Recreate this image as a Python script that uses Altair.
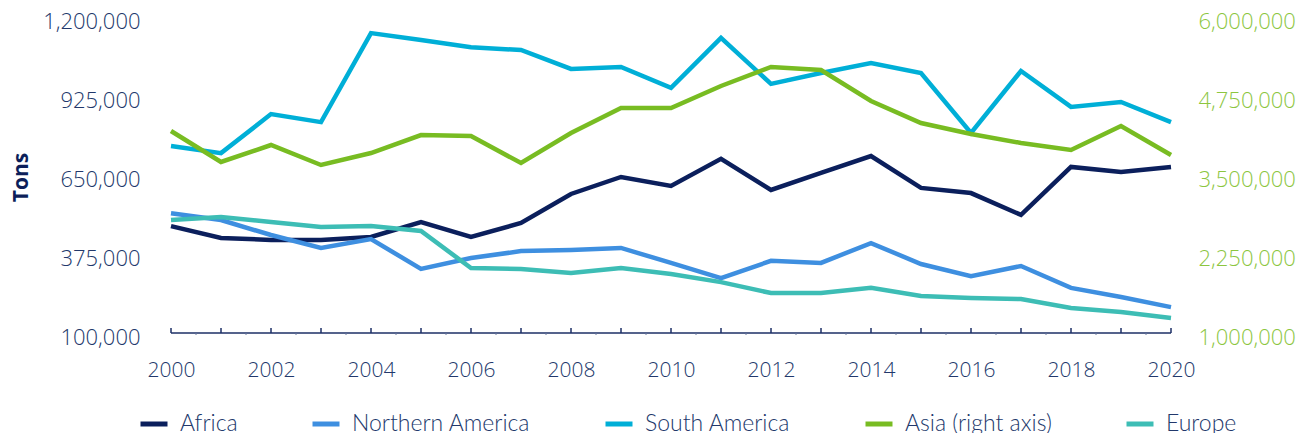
import altair as alt
import pandas as pd

years = list(range(2000, 2021))

africa = [486000, 445000, 438000, 438000, 448000, 500000, 448000, 497000, 598000, 657000, 626000,
          720000, 612000, 671000, 730000, 619000, 601000, 525000, 692000, 674000, 692000]
northern_america = [531000, 507000, 455000, 410000, 441000, 337000, 375000, 399000, 403000, 410000, 358000,
                    305000, 365000, 358000, 427000, 354000, 312000, 347000, 271000, 239000, 204000]
south_america = [765000, 740000, 876000, 848000, 1158000, 1134000, 1109000, 1099000, 1033000, 1040000, 967000,
                 1141000, 981000, 1019000, 1054000, 1019000, 810000, 1026000, 901000, 918000, 848000]
europe = [507000, 518000, 500000, 483000, 486000, 469000, 340000, 337000, 323000, 340000, 319000,
          291000, 253000, 253000, 271000, 243000, 236000, 232000, 201000, 187000, 166000]
asia = [4260000, 3769000, 4038000, 3722000, 3911000, 4196000, 4180000, 3753000, 4228000, 4623000, 4623000,
        4972000, 5272000, 5225000, 4734000, 4386000, 4212000, 4070000, 3959000, 4339000, 3880000]

series_names = ["Africa", "Northern America", "South America", "Asia (right axis)", "Europe"]
series_colors = ["#0b1f5c", "#3e8fe0", "#00afd7", "#78bc22", "#3dbdb5"]

left_ticks = [100000, 375000, 650000, 925000, 1200000]
right_ticks = [1000000, 2250000, 3500000, 4750000, 6000000]
x_label_years = list(range(2000, 2021, 2))

NAVY = "#22386b"
GREEN = "#8cc63f"
FONT = "Open Sans"
LFONT = "Lato"
W, H = 1000, 316

rows = []
for name, vals in [("Africa", africa), ("Northern America", northern_america),
                   ("South America", south_america), ("Europe", europe)]:
    for y, v in zip(years, vals):
        rows.append({"year": y, "value": v, "series": name})
left_df = pd.DataFrame(rows)
asia_df = pd.DataFrame({"year": years, "value": asia, "series": "Asia (right axis)"})

x_scale = alt.Scale(domain=[2000, 2020], nice=False, zero=False)
color = alt.Color(
    "series:N",
    scale=alt.Scale(domain=series_names, range=series_colors),
    legend=alt.Legend(
        title=None, orient="none", legendX=-33, legendY=387, direction="horizontal",
        columns=5, columnPadding=64, padding=0, symbolType="stroke", symbolStrokeWidth=5,
        symbolSize=729, labelFont=LFONT, labelFontSize=23, labelFontWeight=300,
        labelColor=NAVY, labelOffset=10, labelLimit=400,
    ),
)

x_enc = alt.X(
    "year:Q", scale=x_scale,
    axis=alt.Axis(values=x_label_years, format="d", domain=False, ticks=False, grid=False,
                  title=None, labelFont=FONT, labelFontSize=21, labelFontWeight=300,
                  labelColor=NAVY, labelPadding=22, labelFlush=False, labelOverlap=False),
)

left = alt.Chart(left_df).mark_line(strokeWidth=4.5).encode(
    x=x_enc,
    y=alt.Y("value:Q", scale=alt.Scale(domain=[100000, 1200000], nice=False, zero=False),
            axis=alt.Axis(orient="left", values=left_ticks, format=",.0f", domain=False, ticks=False,
                          grid=False, title="Tons", titleFont=FONT, titleFontSize=21,
                          titleFontWeight="bold", titleColor="#0c1f5a", titleX=-150, titleY=156,
                          titleAlign="center", titleBaseline="middle", titleAngle=270,
                          labelFont=FONT, labelFontSize=22, labelFontWeight=300,
                          labelColor=NAVY, labelPadding=31, labelFlush=False)),
    color=color,
)

right = alt.Chart(asia_df).mark_line(strokeWidth=4.5).encode(
    x=alt.X("year:Q", scale=x_scale),
    y=alt.Y("value:Q", scale=alt.Scale(domain=[1000000, 6000000], nice=False, zero=False),
            axis=alt.Axis(orient="right", values=right_ticks, format=",.0f", domain=False, ticks=False,
                          grid=False, title=None, labelFont=FONT, labelFontSize=22,
                          labelFontWeight=300, labelColor=GREEN, labelPadding=27, labelFlush=False)),
    color=color,
)

axis_df = pd.DataFrame({"start": [2000], "end": [2020]})
axis_line = alt.Chart(axis_df).mark_rule(color="#1d2f66", strokeWidth=1.5).encode(
    x=alt.X("start:Q", scale=x_scale), x2="end:Q", y=alt.value(H - 4)
)
tick_df = pd.DataFrame({"year": years})
ticks = alt.Chart(tick_df).mark_rule(color="#1d2f66", strokeWidth=1.5).encode(
    x=alt.X("year:Q", scale=x_scale), y=alt.value(H - 9), y2=alt.value(H - 4)
)
minor_df = pd.DataFrame({"pos": [y + 0.5 for y in years[:-1]]})
minor = alt.Chart(minor_df).mark_rule(color="#6b7aa0", strokeWidth=1).encode(
    x=alt.X("pos:Q", scale=x_scale), y=alt.value(H - 4), y2=alt.value(H - 2)
)

chart = (
    alt.layer(axis_line, ticks, minor, left, right)
    .resolve_scale(y="independent")
    .properties(
        width=W, height=H,
        autosize=alt.AutoSizeParams(type="none"),
        padding={"left": 163, "top": 13, "right": 125, "bottom": 96},
        background="white",
    )
    .configure_view(stroke=None)
)

chart.save("out.html", embed_options={"renderer": "svg", "actions": False})
